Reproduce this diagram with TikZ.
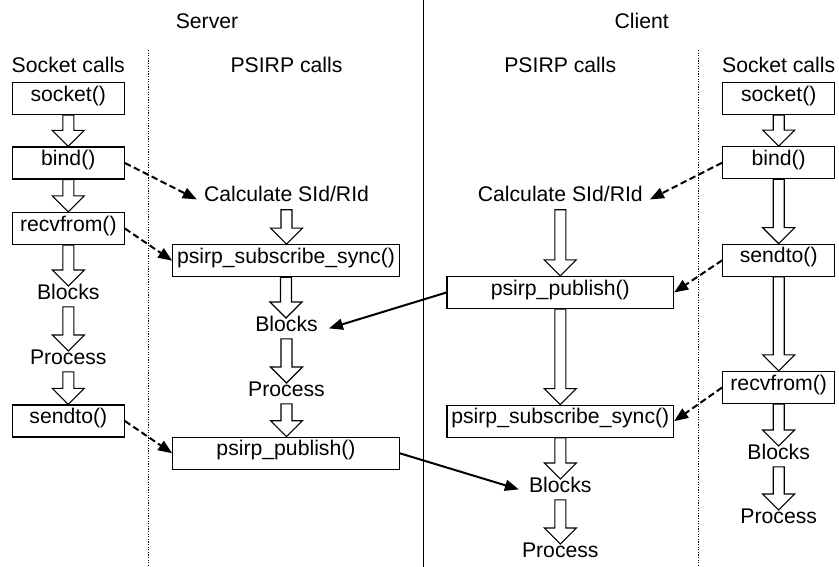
\documentclass[tikz,border=0pt]{standalone}
\usepackage{fontspec}
\setmainfont{Liberation Sans}
\usetikzlibrary{arrows.meta,calc}

\tikzset{
  box/.style={draw, line width=1.2pt, inner sep=0pt, minimum height=32pt,
    text height=0.73em, text depth=0.21em},
  smallbox/.style={box, minimum width=112pt},
  widebox/.style={box, minimum width=226.5pt},
  txt/.style={inner xsep=7pt, inner ysep=5.5pt, text height=0.73em,
    text depth=0.21em, anchor=base},
  hollow/.style={draw, line width=1.1pt, fill=white, line join=miter},
  link/.style={line width=2pt, -{Triangle[length=14pt,width=11pt]}},
  dlink/.style={link, dash pattern=on 6.5pt off 3.5pt},
  lane/.style={line width=1pt, dash pattern=on 1.3pt off 1.3pt},
  side/.style={line width=1.1pt},
}

% block arrow pointing down from one anchor to another
\newcommand\hollowarrow[2]{%
  \path[hollow] let \p1=(#1), \p2=(#2) in
    (\x1-5.5pt,\y1) -- (\x1-5.5pt,\y2+16pt) -- (\x1-16pt,\y2+16pt) --
    (\x1,\y2) -- (\x1+16pt,\y2+16pt) -- (\x1+5.5pt,\y2+16pt) --
    (\x1+5.5pt,\y1) -- cycle;}

\begin{document}
\begin{tikzpicture}[x=1pt, y=-1pt, font=\fontsize{21.2}{25}\selectfont]
\useasboundingbox (0,0) rectangle (839,567);

% lane separators
\coordinate (midtop) at (423.3,0);
\coordinate (midbot) at (423.3,567);
\coordinate (sltop) at (148,50);
\coordinate (slbot) at (148,566);
\coordinate (cltop) at (698.5,50);
\coordinate (clbot) at (698.5,566);
\draw[side] (midtop) -- (midbot);
\draw[lane] (sltop) -- (slbot);
\draw[lane] (cltop) -- (clbot);

% titles
\node[txt] (server) at (207,29) {Server};
\node[txt] (client) at (641.7,29) {Client};

% server: socket calls
\node[txt] (lhead) at (68.3,73) {Socket calls};
\node[smallbox] (lsock) at (68.3,98.5) {socket()};
\node[smallbox] (lbind) at (68.3,163) {bind()};
\node[smallbox] (lrecv) at (68.3,228.5) {recvfrom()};
\node[txt] (lblk) at (68.3,299) {Blocks};
\node[txt] (lproc) at (68.3,364) {Process};
\node[smallbox] (lsend) at (68.3,421) {sendto()};

% server: PSIRP calls
\node[txt] (shead) at (286.5,73) {PSIRP calls};
\node[txt] (scalc) at (286.5,202) {Calculate SId/RId};
\node[widebox] (ssub) at (286,260.7) {psirp\_subscribe\_sync()};
\node[txt] (sblk) at (286.5,331) {Blocks};
\node[txt] (sproc) at (286.5,396) {Process};
\node[widebox] (spub) at (286,453.3) {psirp\_publish()};

% client: PSIRP calls
\node[txt] (chead) at (560.3,73) {PSIRP calls};
\node[txt] (ccalc) at (560.3,202) {Calculate SId/RId};
\node[widebox] (cpub) at (560.3,292.5) {psirp\_publish()};
\node[widebox] (csub) at (560.3,421.2) {psirp\_subscribe\_sync()};
\node[txt] (cblk) at (560.3,492) {Blocks};
\node[txt] (cproc) at (560.3,557) {Process};

% client: socket calls
\node[txt] (rhead) at (778.7,73) {Socket calls};
\node[smallbox] (rsock) at (778.7,98.5) {socket()};
\node[smallbox] (rbind) at (778.7,162.7) {bind()};
\node[smallbox] (rsend) at (778.7,260.3) {sendto()};
\node[smallbox] (rrecv) at (778.7,387.5) {recvfrom()};
\node[txt] (rblk) at (778.7,459) {Blocks};
\node[txt] (rproc) at (778.7,523) {Process};

% sequence arrows
\hollowarrow{lsock.south}{lbind.north}
\hollowarrow{lbind.south}{lrecv.north}
\hollowarrow{lrecv.south}{lblk.north}
\hollowarrow{lblk.south}{lproc.north}
\hollowarrow{lproc.south}{lsend.north}

\hollowarrow{scalc.south}{ssub.north}
\hollowarrow{ssub.south}{sblk.north}
\hollowarrow{sblk.south}{sproc.north}
\hollowarrow{sproc.south}{spub.north}

\hollowarrow{ccalc.south}{cpub.north}
\hollowarrow{cpub.south}{csub.north}
\hollowarrow{csub.south}{cblk.north}
\hollowarrow{cblk.south}{cproc.north}

\hollowarrow{rsock.south}{rbind.north}
\hollowarrow{rbind.south}{rsend.north}
\hollowarrow{rsend.south}{rrecv.north}
\hollowarrow{rrecv.south}{rblk.north}
\hollowarrow{rblk.south}{rproc.north}

% socket calls mapped to PSIRP calls
\draw[dlink] (lbind.east) -- (scalc.west);
\draw[dlink] (lrecv.east) -- (ssub.west);
\draw[dlink] (lsend.east) -- (spub.west);
\draw[dlink] (rbind.west) -- (ccalc.east);
\draw[dlink] (rsend.west) -- (cpub.east);
\draw[dlink] (rrecv.west) -- (csub.east);

% publications delivered to the other side
\draw[link] (cpub.west) -- ([xshift=4pt]sblk.east);
\draw[link] (spub.east) -- ([xshift=-3pt]cblk.west);
\end{tikzpicture}
\end{document}
